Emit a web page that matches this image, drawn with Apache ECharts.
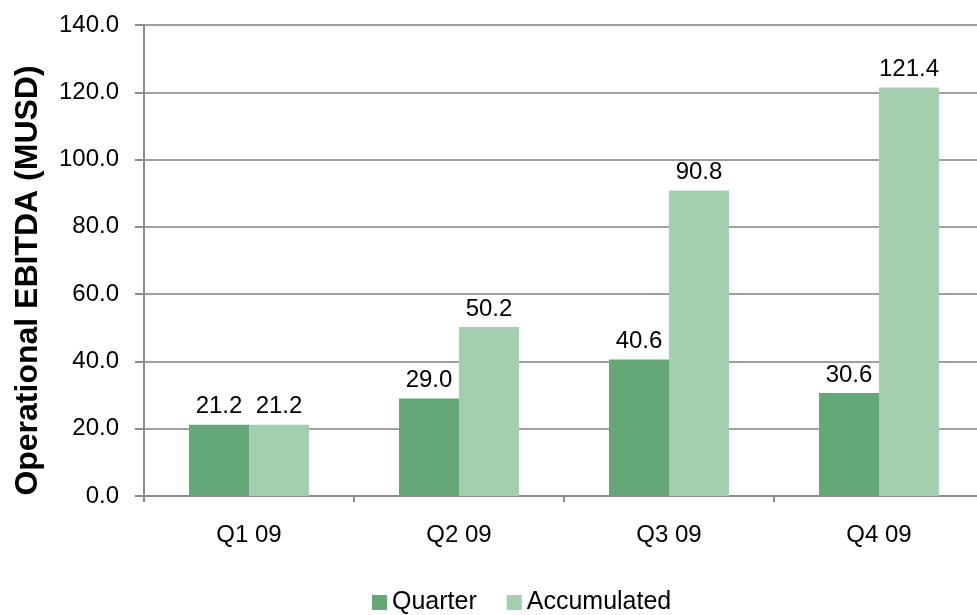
<!DOCTYPE html>
<html>
<head>
<meta charset="utf-8">
<title>Operational EBITDA</title>
<script src="https://cdn.jsdelivr.net/npm/echarts@6/dist/echarts.min.js"></script>
<style>
  html, body { margin: 0; padding: 0; background: #ffffff; overflow: hidden; }
  #wrap { width: 977px; height: 615px; overflow: hidden; }
  /* the plot runs slightly past the right edge of the visible frame */
  #chart { width: 990px; height: 615px; }
</style>
</head>
<body>
<div id="wrap"><div id="chart"></div></div>
<script>
// Quarterly and accumulated operational EBITDA, 2009 (MUSD)
const quarters = ['Q1 09', 'Q2 09', 'Q3 09', 'Q4 09'];
const quarterValues = [21.2, 29.0, 40.6, 30.6];
const accumulatedValues = [21.2, 50.2, 90.8, 121.4];
const seriesNames = ['Quarter', 'Accumulated'];

const FONT = '"Liberation Sans", Arial, Helvetica, sans-serif';
const fmt = v => v.toFixed(1);

const chart = echarts.init(document.getElementById('chart'));

const labelStyle = {
  show: true,
  position: 'top',
  distance: 6,
  fontFamily: FONT,
  fontSize: 24,
  color: '#000000',
  formatter: p => fmt(p.value)
};

chart.setOption({
  animation: false,
  textStyle: { fontFamily: FONT },
  grid: { left: 144, top: 25, width: 840, height: 471, containLabel: false },
  legend: {
    bottom: -5,
    left: 367,
    itemWidth: 15,
    itemHeight: 15,
    itemGap: 30,
    icon: 'rect',
    textStyle: { fontFamily: FONT, fontSize: 25, color: '#000000' },
    data: seriesNames
  },
  xAxis: {
    type: 'category',
    data: quarters,
    axisLine: { lineStyle: { color: '#8c8c8c', width: 2 } },
    axisTick: { show: true, alignWithLabel: false, length: 6, lineStyle: { color: '#8c8c8c', width: 2 } },
    axisLabel: { fontFamily: FONT, fontSize: 24, color: '#000000', margin: 27 }
  },
  yAxis: {
    type: 'value',
    min: 0,
    max: 140,
    interval: 20,
    name: 'Operational EBITDA (MUSD)',
    nameLocation: 'middle',
    nameGap: 100,
    nameTextStyle: { fontFamily: FONT, fontSize: 32, fontWeight: 'bold', color: '#000000', padding: [0, 0, 0, -40] },
    axisLine: { show: true, lineStyle: { color: '#8c8c8c', width: 2 } },
    axisTick: { show: true, length: 9, lineStyle: { color: '#8c8c8c', width: 2 } },
    splitLine: { show: true, lineStyle: { color: '#a0a0a0', width: 2 } },
    axisLabel: { fontFamily: FONT, fontSize: 24, color: '#000000', margin: 25, formatter: v => fmt(v) }
  },
  series: [
    {
      name: seriesNames[0],
      type: 'bar',
      data: quarterValues,
      barGap: '0%',
      barCategoryGap: '42.86%',
      itemStyle: { color: '#64a877' },
      label: labelStyle
    },
    {
      name: seriesNames[1],
      type: 'bar',
      data: accumulatedValues,
      barGap: '0%',
      barCategoryGap: '42.86%',
      itemStyle: { color: '#a3cfaf' },
      label: labelStyle
    }
  ]
});
</script>
</body>
</html>
